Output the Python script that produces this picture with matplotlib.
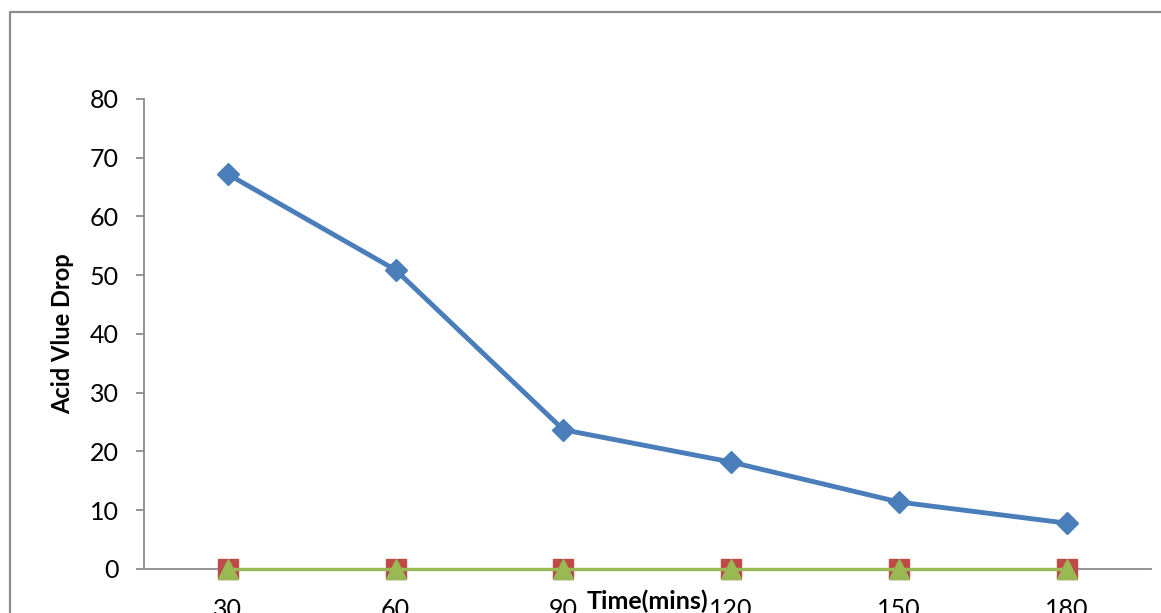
import matplotlib.pyplot as plt
from matplotlib.lines import Line2D

# chart values
times = ['30', '60', '90', '120', '150', '180']
acid_drop = [67.2, 50.9, 23.7, 18.2, 11.4, 7.8]
series2 = [0, 0, 0, 0, 0, 0]
series3 = [0, 0, 0, 0, 0, 0]
y_ticks = [0, 10, 20, 30, 40, 50, 60, 70, 80]

plt.rcParams['font.family'] = ['Lato', 'DejaVu Sans']

fig = plt.figure(figsize=(11.61, 6.13), dpi=100)
ax = fig.add_axes([0.124, 0.0718, 0.867, 0.7667])

# outer chart border: only left and top edges are visible in the crop
bx = 9.5 / 1161
by = 1 - 11.5 / 613
fig.lines.append(Line2D([bx, bx, 1.0], [0.0, by, by], transform=fig.transFigure,
                        color='#8c8c8c', linewidth=1.6))

x = list(range(len(times)))
ax.plot(x, acid_drop, color='#4A7EBB', linewidth=3.5, marker='D', markersize=11,
        zorder=3)
ax.plot(x, series2, color='#BE4B48', linewidth=2.2, marker='s', markersize=14,
        zorder=3, clip_on=False)
ax.plot(x, series3, color='#98B954', linewidth=2.4, marker='^', markersize=14,
        zorder=4, clip_on=False)

ax.set_xlim(-0.5, len(times) - 0.5)
ax.set_ylim(0, 80)
ax.set_yticks(y_ticks)
ax.set_xticks(x)
ax.set_xticklabels(times)

for side in ['top', 'right']:
    ax.spines[side].set_visible(False)
for side in ['left', 'bottom']:
    ax.spines[side].set_color('#8c8c8c')
    ax.spines[side].set_linewidth(1.3)

ax.tick_params(axis='y', length=6, width=1.3, color='#8c8c8c', labelsize=18,
               pad=12)
ax.tick_params(axis='x', length=0, labelsize=18, pad=21)

ax.set_ylabel('Acid Vlue Drop', fontsize=17, fontweight='bold', labelpad=11)
ax.text(0.5, -0.068, 'Time(mins)', transform=ax.transAxes, ha='center',
        va='center', fontsize=18, fontweight='bold')

fig.savefig('out.png', dpi=100)
